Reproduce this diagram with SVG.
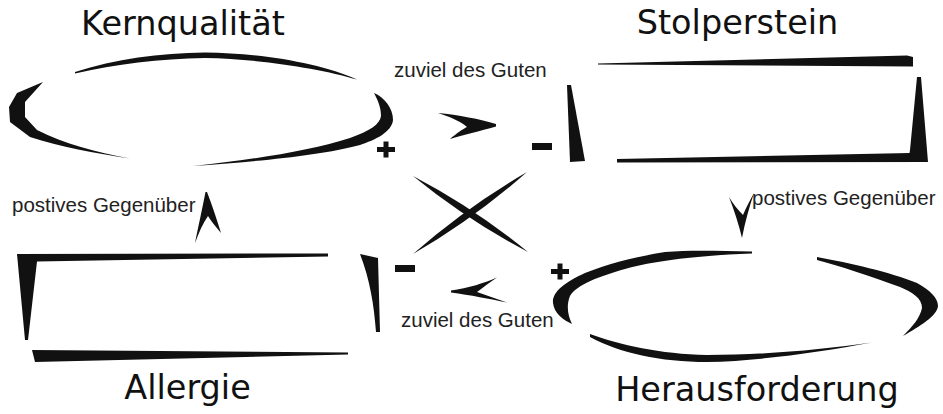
<svg xmlns="http://www.w3.org/2000/svg" width="943" height="414" viewBox="0 0 943 414">
<style>
.title{font-family:"DejaVu Sans",Verdana,sans-serif;font-size:33.5px;fill:#111;text-anchor:middle}
.lbl{font-family:"Liberation Sans",Arial,sans-serif;font-size:20.5px;fill:#222}
.ink{fill:#111;stroke:none}
</style>
<defs>
<g id="plus"><rect x="-9" y="-2.5" width="18" height="5"/><rect x="-2.5" y="-8" width="5" height="16"/></g>
</defs>
<rect width="943" height="414" fill="#fff"/>

<g id="kernqualitaet">
<text class="title" x="183" y="35">Kernqualität</text>
<path class="ink" d="M75,72 C115,59 160,53 205,52.5 C260,53 320,63 357,79.5 C320,68.5 260,59 205,58 C160,59 115,64 75,73.5 Z"/>
<path class="ink" d="M43,82 L17,93 L9,107 L10,122 L30,137 C60,147 95,153 130,158.5 C95,152 65,144 37,130 L25,117 L25,102 Z"/>
<path class="ink" d="M374,93 C384,97 393,108 393,120 C392,132 375,140 360,145 C320,156 250,162 193,166 C250,160 310,151 350,138 C370,131 380,124 381,116 C381,106 377,99 374,93 Z"/>
</g>

<g id="stolperstein">
<text class="title" x="737.5" y="34">Stolperstein</text>
<path class="ink" d="M598,63.5 L907,55.5 L913,57 L913,66.5 L598,64.5 Z"/>
<path class="ink" d="M567,85 L571,85 L585,161 L570,162 Z"/>
<path class="ink" d="M617,159 L910,153 L928,162 L617,162.5 Z"/>
<path class="ink" d="M917,77 L921,77 L928,162 L908,162 L910,150 Z"/>
</g>

<g id="allergie">
<text class="title" x="187.5" y="399">Allergie</text>
<path class="ink" d="M17,254 L328,253.5 L328,256.5 L37,261.5 L28,340 L25,340 Z"/>
<path class="ink" d="M360,254 L378,258 L380,332 L376,332 C374,305 370,280 360,254 Z"/>
<path class="ink" d="M32,350 L348,352.5 L348,354.5 L35,362 Z"/>
</g>

<g id="herausforderung">
<text class="title" x="757" y="401">Herausforderung</text>
<path class="ink" d="M752,251.5 C720,251 690,250 665,252 C640,256 610,263 585,273 C565,282 552,292 553,303 C554,313 563,320 572,324 C568,316 566,306 570,296 C576,285 600,276 625,269 C655,261 690,256 752,253.5 Z"/>
<path class="ink" d="M817,257 C850,263 890,272 917,283 C930,290 938,298 938,306 C937,316 920,326 903,336 C912,327 920,318 922,308 C922,298 912,292 900,287 C870,276 840,266 817,260 Z"/>
<path class="ink" d="M590,334 C620,345 660,354 707,355 C760,355 820,350 872,342.5 C820,352 760,361 707,362 C660,362 620,353 590,337 Z"/>
</g>

<g id="connectors">
<g class="ink">
<path d="M438,113 C458,115 480,119 496,124 L496,126.5 C480,131 463,135 450,139 C457,133 463,129 467,127 C460,121 450,117 438,113 Z"/>
<path d="M497,277.5 C485,283 468,288 451,290.5 L451,292.5 C470,295 490,299 507,302.5 C495,298 485,295 477,292 C484,287 490,282 497,277.5 Z"/>
<path d="M207,192 C212,205 217,220 221,233 C215,226 211,221 208,216 C203,223 199,232 195,243 C198,228 202,210 205.5,192 Z"/>
<path d="M729,197 C733,204 738,210 743,215 C746,208 750,200 754,193 C749,208 745,222 742,238 C739,225 734,210 729,197 Z"/>
<path d="M413,176 Q466.6,219.8 528,252 Q474.4,208.2 413,176 Z"/>
<path d="M527,172 Q474,218.7 413,254 Q466,207.3 527,172 Z"/>
<rect x="532" y="143" width="20" height="7"/>
<rect x="395" y="265" width="20" height="7"/>
<use href="#plus" x="386" y="149.5"/>
<use href="#plus" x="560" y="271.5"/>
</g>
<text class="lbl" x="394" y="77">zuviel des Guten</text>
<text class="lbl" x="401" y="327">zuviel des Guten</text>
<text class="lbl" x="12" y="212">postives Gegenüber</text>
<text class="lbl" x="752" y="205">postives Gegenüber</text>
</g>
</svg>
